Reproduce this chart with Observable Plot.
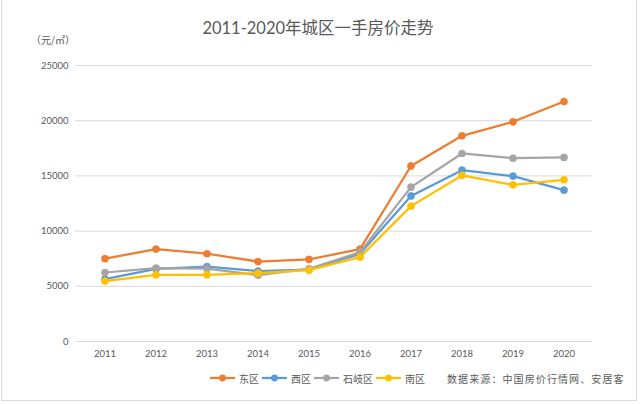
<!DOCTYPE html>
<html>
<head>
<meta charset="utf-8">
<script src="https://cdn.jsdelivr.net/npm/d3@7"></script>
<script src="https://cdn.jsdelivr.net/npm/@observablehq/plot@0.6"></script>
<style>
  html, body { margin: 0; padding: 0; background: #fff; }
  #wrap { position: relative; width: 640px; height: 404px; overflow: hidden; font-family: Lato, "Noto Sans CJK SC", sans-serif; color: #595959; }
  #frame { position: absolute; left: 1px; top: -2px; width: 636px; height: 403px; border: 1px solid #d9d9d9; box-sizing: border-box; pointer-events: none; }
  #title { position: absolute; left: 0; width: 636px; top: 18px; text-align: center; font-size: 16.5px; line-height: 20px; color: #595959; }
  #unit { position: absolute; left: 31px; top: 33px; font-size: 10px; line-height: 14px; font-family: "Noto Sans CJK SC", sans-serif; white-space: nowrap; }
  #legend { position: absolute; left: 210px; top: 370px; height: 16px; display: flex; align-items: center; font-size: 10px; font-family: "Noto Sans CJK SC", sans-serif; white-space: nowrap; }
  .item { display: flex; align-items: center; margin-right: 3px; }
  .item svg { margin-right: 4px; }
  #source { margin-left: 19px; letter-spacing: 1.1px; }
  #chart { position: absolute; left: 0; top: 0; }
</style>
</head>
<body>
<div id="wrap">
  <div id="chart"></div>
  <div id="title">2011-2020年城区一手房价走势</div>
  <div id="unit">（元/㎡）</div>
  <div id="legend"></div>
  <div id="frame"></div>
</div>
<script>
const years = ["2011","2012","2013","2014","2015","2016","2017","2018","2019","2020"];
const seriesNames = ["东区","西区","石岐区","南区"];
const seriesColors = ["#ED7D31","#5B9BD5","#A5A5A5","#FFC000"];
const east   = [7500, 8370, 7950, 7240, 7430, 8360, 15900, 18630, 19900, 21740];
const west   = [5650, 6580, 6790, 6370, 6520, 7940, 13190, 15520, 14980, 13710];
const shiqi  = [6250, 6640, 6600, 6010, 6580, 8090, 13980, 17030, 16600, 16670];
const south  = [5470, 6040, 6040, 6190, 6460, 7640, 12260, 15040, 14190, 14650];
const yTicks = [0, 5000, 10000, 15000, 20000, 25000];
const sourceText = "数据来源：中国房价行情网、安居客";

const seriesValues = [east, west, shiqi, south];
const data = [];
seriesNames.forEach((name, i) => {
  years.forEach((y, j) => data.push({series: name, year: y, value: seriesValues[i][j]}));
});

const marks = [
  Plot.gridY(yTicks, {stroke: "#d9d9d9", strokeOpacity: 1, strokeWidth: 1})
];
seriesNames.forEach(name => {
  const d = data.filter(r => r.series === name);
  marks.push(Plot.line(d, {x: "year", y: "value", stroke: "series", strokeWidth: 2.25, strokeLinejoin: "round"}));
  marks.push(Plot.dot(d, {x: "year", y: "value", fill: "series", r: 3.6, stroke: "series", strokeWidth: 0.5}));
});
marks.push(Plot.axisY(yTicks, {tickSize: 0, tickPadding: 7, label: null, fontSize: 9.5, fill: "#595959", tickFormat: d3.format("d")}));
marks.push(Plot.axisX({tickSize: 0, tickPadding: 9, label: null, fontSize: 9.5, fill: "#595959"}));

const chart = Plot.plot({
  width: 640,
  height: 404,
  marginLeft: 75,
  marginRight: 48,
  marginTop: 65,
  marginBottom: 63,
  style: {fontFamily: "Lato, 'Noto Sans CJK SC', sans-serif", fontSize: "9.5px", color: "#595959", background: "transparent"},
  x: {type: "band", domain: years, padding: 0},
  y: {domain: [0, 25000]},
  color: {domain: seriesNames, range: seriesColors},
  marks
});
document.getElementById("chart").appendChild(chart);

const legend = document.getElementById("legend");
seriesNames.forEach((name, i) => {
  const item = document.createElement("div");
  item.className = "item";
  const c = seriesColors[i];
  item.innerHTML = `<svg width="25" height="10"><line x1="0" y1="5" x2="25" y2="5" stroke="${c}" stroke-width="2.25"/><circle cx="12.5" cy="5" r="3.4" fill="${c}"/></svg><span>${name}</span>`;
  legend.appendChild(item);
});
const src = document.createElement("span");
src.id = "source";
src.textContent = sourceText;
legend.appendChild(src);
</script>
</body>
</html>
